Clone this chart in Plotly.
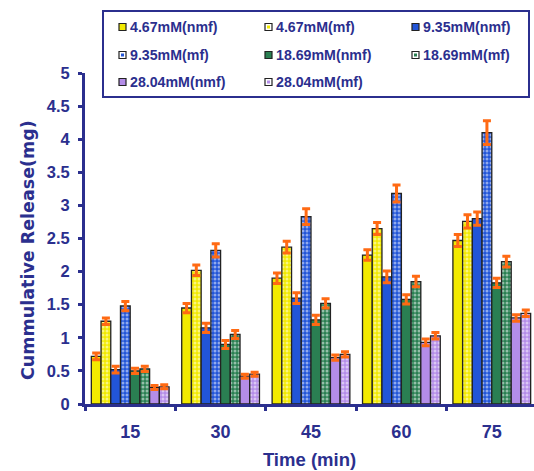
import plotly.graph_objects as go

times = ["15", "30", "45", "60", "75"]
series_names = ["4.67mM(nmf)", "4.67mM(mf)", "9.35mM(nmf)", "9.35mM(mf)",
                "18.69mM(nmf)", "18.69mM(mf)", "28.04mM(nmf)", "28.04mM(mf)"]
v_467_nmf = [0.72, 1.45, 1.90, 2.25, 2.47]
v_467_mf = [1.25, 2.02, 2.37, 2.65, 2.76]
v_935_nmf = [0.52, 1.15, 1.60, 1.92, 2.80]
v_935_mf = [1.48, 2.32, 2.83, 3.18, 4.10]
v_1869_nmf = [0.50, 0.90, 1.27, 1.58, 1.83]
v_1869_mf = [0.53, 1.05, 1.52, 1.85, 2.15]
v_2804_nmf = [0.25, 0.42, 0.70, 0.93, 1.30]
v_2804_mf = [0.26, 0.45, 0.75, 1.03, 1.37]
e_467_nmf = [0.05, 0.07, 0.08, 0.08, 0.09]
e_467_mf = [0.05, 0.08, 0.09, 0.09, 0.10]
e_935_nmf = [0.05, 0.07, 0.08, 0.09, 0.10]
e_935_mf = [0.07, 0.10, 0.12, 0.13, 0.18]
e_1869_nmf = [0.04, 0.06, 0.07, 0.07, 0.07]
e_1869_mf = [0.04, 0.06, 0.07, 0.08, 0.08]
e_2804_nmf = [0.03, 0.03, 0.04, 0.05, 0.05]
e_2804_mf = [0.03, 0.03, 0.04, 0.05, 0.05]

values = [v_467_nmf, v_467_mf, v_935_nmf, v_935_mf, v_1869_nmf, v_1869_mf, v_2804_nmf, v_2804_mf]
errors = [e_467_nmf, e_467_mf, e_935_nmf, e_935_mf, e_1869_nmf, e_1869_mf, e_2804_nmf, e_2804_mf]
colors = ["#F2EA00", "#F2EA00", "#2255D8", "#2255D8", "#2A7F52", "#2A7F52", "#B48DE8", "#B48DE8"]
patterned = [False, True, False, True, False, True, False, True]

NAVY = "#2B2F8E"
FONT = "Arial, Liberation Sans, sans-serif"
W, H = 534, 471
ML, MR, MT, MB = 85, 0, 73, 67
PW, PH = W - ML - MR, H - MT - MB


def px(xp):
    return (xp - ML) / PW


def py(yp):
    return (H - MB - yp) / PH


fig = go.Figure()
for name, vals, errs, col, pat in zip(series_names, values, errors, colors, patterned):
    marker = dict(color=col, line=dict(color="#222222", width=1.3))
    if pat:
        marker["pattern"] = dict(shape=".", fgcolor="white", bgcolor=col, size=4, solidity=0.45)
    fig.add_trace(go.Bar(
        x=times, y=vals, name=name, marker=marker, showlegend=False,
        error_y=dict(type="data", array=errs, visible=True, color="#FF6A13", thickness=3, width=4),
    ))

# manual legend (box, swatches, labels)
shapes = [dict(type="rect", xref="paper", yref="paper", x0=px(103), x1=px(529), y0=py(97), y1=py(11),
               line=dict(color=NAVY, width=2), fillcolor="white", layer="above")]
annotations = []
col_marker = [122.5, 268.5, 415.5]
row_y = [27, 55, 82]
for i, (name, col, pat) in enumerate(zip(series_names, colors, patterned)):
    r, c = divmod(i, 3)
    cx, cy = col_marker[c], row_y[r]
    shapes.append(dict(type="rect", xref="paper", yref="paper",
                       x0=px(cx - 3.5), x1=px(cx + 3.5), y0=py(cy + 3.5), y1=py(cy - 3.5),
                       line=dict(color="#222222", width=1.2),
                       fillcolor=("white" if pat else col), layer="above"))
    if pat:
        shapes.append(dict(type="rect", xref="paper", yref="paper",
                           x0=px(cx - 1.5), x1=px(cx + 1.5), y0=py(cy + 1.5), y1=py(cy - 1.5),
                           line=dict(width=0), fillcolor=col, layer="above"))
    annotations.append(dict(text=name, xref="paper", yref="paper", x=px(cx + 5.5), y=py(cy),
                            xanchor="left", yanchor="middle", showarrow=False,
                            font=dict(family=FONT, size=14.2, color=NAVY, weight="bold")))

# y-axis title
annotations.append(dict(text="Cummulative Release(mg)", xref="paper", yref="paper",
                        x=px(28), y=py(250), xanchor="center", yanchor="middle",
                        textangle=-90, showarrow=False,
                        font=dict(family="DejaVu Sans, sans-serif", size=17.5, color=NAVY, weight="bold")))

fig.update_layout(
    width=W, height=H,
    margin=dict(l=ML, r=MR, t=MT, b=MB),
    paper_bgcolor="white", plot_bgcolor="white",
    barmode="group", bargap=0.14, bargroupgap=0,
    font=dict(family=FONT, color=NAVY, size=13, weight="bold"),
    showlegend=False,
    shapes=shapes, annotations=annotations,
    xaxis=dict(
        type="category", range=[-0.5, 4.467], tickson="boundaries",
        showline=True, linecolor=NAVY, linewidth=3,
        ticks="outside", ticklen=4, tickwidth=3, tickcolor=NAVY,
        ticklabelstandoff=9,
        tickfont=dict(family=FONT, size=18, color=NAVY, weight="bold"),
        title=dict(text="Time (min)", font=dict(family=FONT, size=18.5, color=NAVY, weight="bold"), standoff=13),
        showgrid=False, zeroline=False,
    ),
    yaxis=dict(
        range=[0, 5], dtick=0.5, tick0=0,
        showline=True, linecolor=NAVY, linewidth=3,
        ticks="outside", ticklen=4, tickwidth=3, tickcolor=NAVY,
        ticklabelstandoff=5,
        tickfont=dict(family=FONT, size=16.5, color=NAVY, weight="bold"),
        showgrid=False, zeroline=False,
    ),
)

fig.write_html("out.html")
